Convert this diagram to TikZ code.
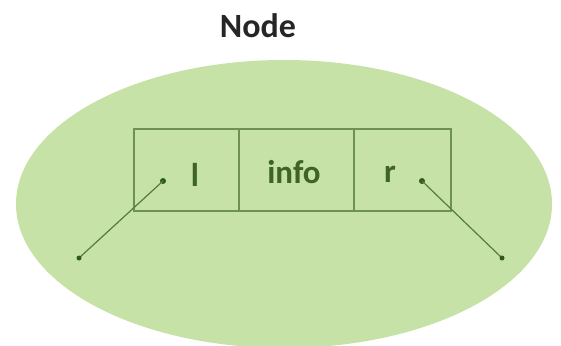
\documentclass[tikz,border=0pt]{standalone}
\usepackage{fontspec}
\setmainfont{Carlito}
\usetikzlibrary{shapes.geometric}
\definecolor{ellfill}{HTML}{C6E2A6}
\definecolor{boxline}{HTML}{6E9150}
\definecolor{txtgreen}{HTML}{3E6428}
\definecolor{dotgreen}{HTML}{2F5A1E}
\tikzset{
  cell/.style={draw=boxline, line width=1.6pt, minimum height=82pt, inner sep=0pt, anchor=north west},
  lbl/.style={font=\bfseries\fontsize{33}{35}\selectfont, text=txtgreen, inner sep=0pt},
  ptr/.style={draw=dotgreen!75!ellfill, line width=1.2pt},
  dotc/.style={circle, fill=dotgreen, inner sep=0pt, minimum size=6pt},
  enddot/.style={circle, fill=dotgreen, inner sep=0pt, minimum size=5pt}
}
\begin{document}
\begin{tikzpicture}[x=1pt,y=-1pt]
\useasboundingbox (0,0) rectangle (561,345);
\fill[white] (0,0) rectangle (561,345);
\node[ellipse, fill=ellfill, minimum width=536pt, minimum height=288pt, inner sep=0pt] (ell) at (284,204) {};
\node[font=\bfseries\fontsize{34}{36}\selectfont, text=black!85] (title) at (258,26) {Node};
\node[cell, minimum width=105pt] (lc) at (133,128) {};
\node[cell, minimum width=115pt] (ic) at (238,128) {};
\node[cell, minimum width=97pt] (rc) at (353,128) {};
\node[lbl] (lt) at (195,175) {l};
\node[lbl] (it) at (294,172) {info};
\node[lbl] (rt) at (390,174) {r};
\node[dotc] (ld) at (163,181) {};
\node[dotc] (rd) at (422,181) {};
\coordinate (le) at (79,258);
\coordinate (re) at (502,258);
\draw[ptr] (ld.center) -- (le);
\draw[ptr] (rd.center) -- (re);
\node[enddot] (led) at (le) {};
\node[enddot] (red) at (re) {};
\end{tikzpicture}
\end{document}
